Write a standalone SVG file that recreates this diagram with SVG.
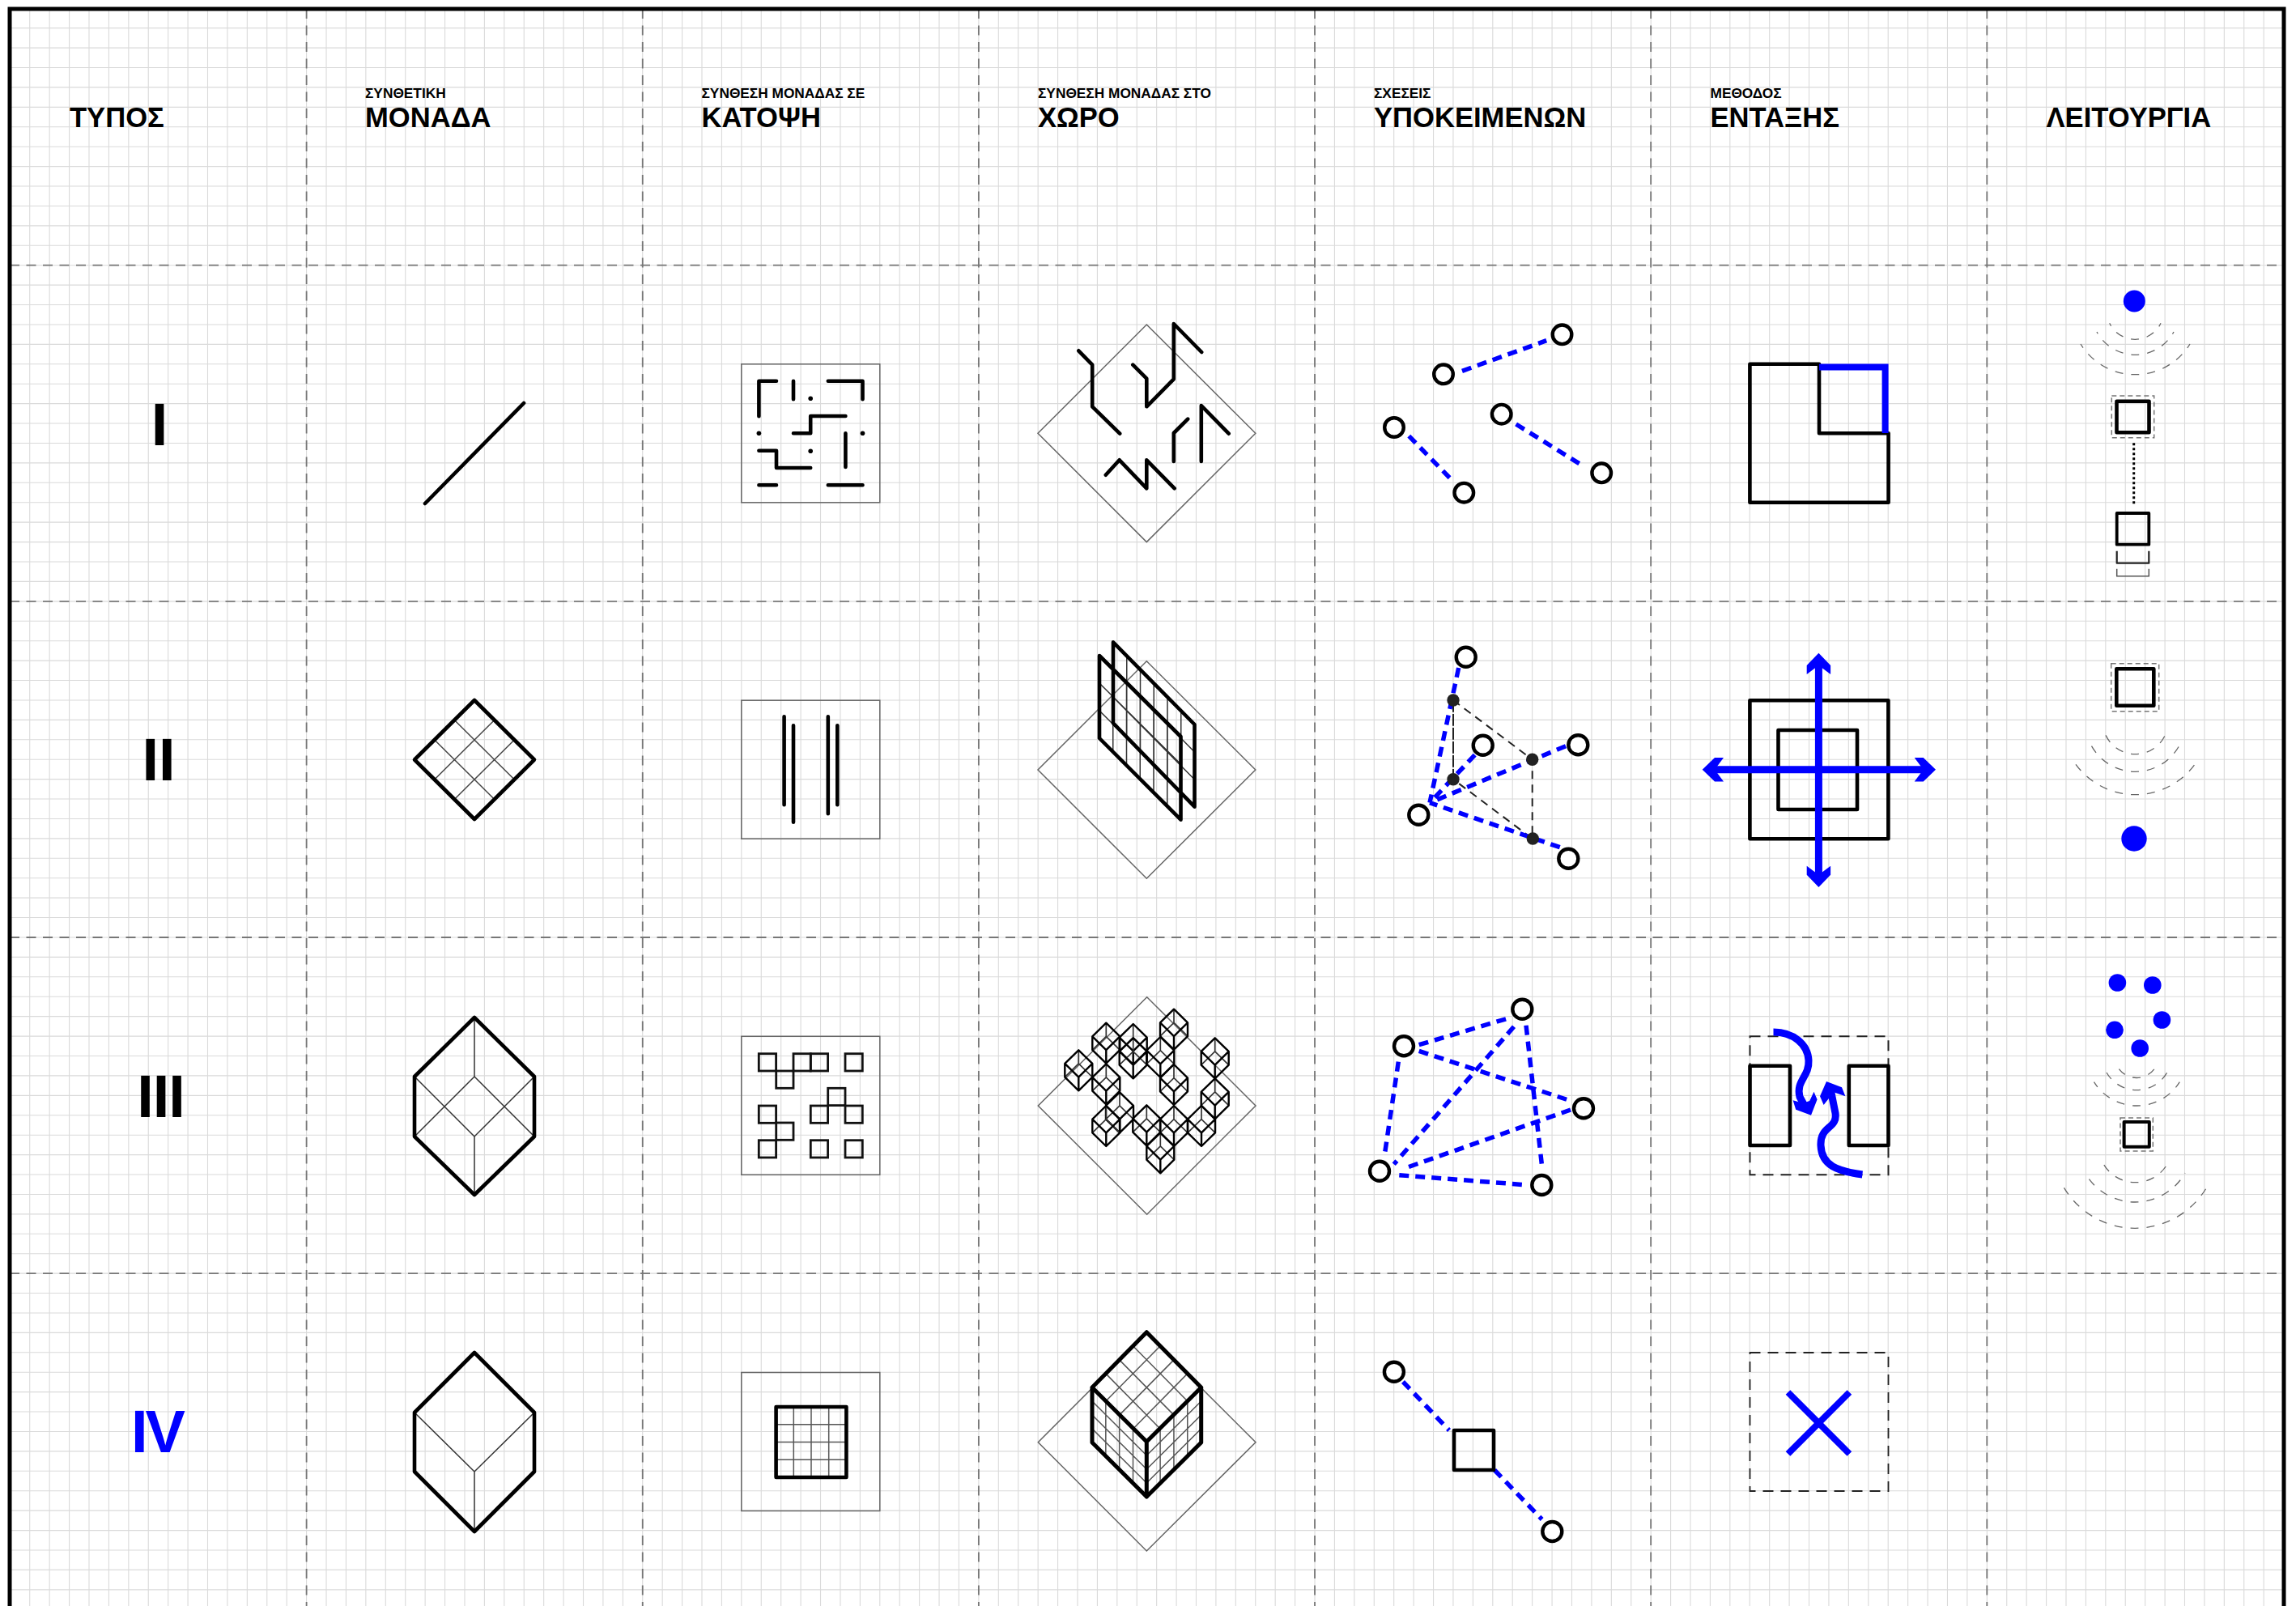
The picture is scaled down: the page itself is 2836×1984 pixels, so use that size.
<svg xmlns="http://www.w3.org/2000/svg" width="2836" height="1984" viewBox="0 0 2836 1984">
<style>
text{font-family:"Liberation Sans",Arial,sans-serif;font-weight:bold;fill:#000}
.h{font-size:34.6px}.s{font-size:17.3px}.r{font-size:74px;text-anchor:middle}
.grid{fill:none;stroke:#dadada;stroke-width:1.1}
.maj{fill:none;stroke:#777;stroke-width:1.8;stroke-dasharray:12 8.5}
.th{fill:none;stroke:#666;stroke-width:1.5}
.k{fill:none;stroke:#000;stroke-width:4.6;stroke-linejoin:round;stroke-linecap:round}
.n{fill:none;stroke:#333;stroke-width:1.5}
.bd{fill:none;stroke:#00f;stroke-width:5.5;stroke-dasharray:12 8}
.c{fill:#fff;stroke:#000;stroke-width:4.4}
.b{fill:#00f}
.arc{fill:none;stroke:#666;stroke-width:1.3;stroke-dasharray:10 10;stroke-dashoffset:5}
.dr{fill:none;stroke:#777;stroke-width:1.5;stroke-dasharray:6 4}
.bs{fill:none;stroke:#00f;stroke-width:9}
</style>
<defs>
<g id="cube">
<path d="M-17 8.33L0 -8.33L17 8.33M0 -25V-8.33" fill="none" stroke="#333" stroke-width="1.7"/>
<path d="M0 -25L17 -8.33V8.33L0 25L-17 8.33V-8.33ZM-17 -8.33L0 8.33L17 -8.33M0 8.33V25" fill="none" stroke="#000" stroke-width="2.4" stroke-linejoin="round"/>
</g>
</defs>
<rect width="2836" height="1984" fill="#fff"/>
<g id="grid">
<path class="grid" d="M36.72 11V1984M61.14 11V1984M85.56 11V1984M109.98 11V1984M134.4 11V1984M158.82 11V1984M183.24 11V1984M207.66 11V1984M232.08 11V1984M256.5 11V1984M280.92 11V1984M305.34 11V1984M329.76 11V1984M354.18 11V1984M378.6 11V1984M403.02 11V1984M427.44 11V1984M451.86 11V1984M476.28 11V1984M500.7 11V1984M525.12 11V1984M549.54 11V1984M573.96 11V1984M598.38 11V1984M622.8 11V1984M647.22 11V1984M671.64 11V1984M696.06 11V1984M720.48 11V1984M744.9 11V1984M769.32 11V1984M793.74 11V1984M818.16 11V1984M842.58 11V1984M867 11V1984M891.42 11V1984M915.84 11V1984M940.26 11V1984M964.68 11V1984M989.1 11V1984M1013.52 11V1984M1037.94 11V1984M1062.36 11V1984M1086.78 11V1984M1111.2 11V1984M1135.62 11V1984M1160.04 11V1984M1184.46 11V1984M1208.88 11V1984M1233.3 11V1984M1257.72 11V1984M1282.14 11V1984M1306.56 11V1984M1330.98 11V1984M1355.4 11V1984M1379.82 11V1984M1404.24 11V1984M1428.66 11V1984M1453.08 11V1984M1477.5 11V1984M1501.92 11V1984M1526.34 11V1984M1550.76 11V1984M1575.18 11V1984M1599.6 11V1984M1624.02 11V1984M1648.44 11V1984M1672.86 11V1984M1697.28 11V1984M1721.7 11V1984M1746.12 11V1984M1770.54 11V1984M1794.96 11V1984M1819.38 11V1984M1843.8 11V1984M1868.22 11V1984M1892.64 11V1984M1917.06 11V1984M1941.48 11V1984M1965.9 11V1984M1990.32 11V1984M2014.74 11V1984M2039.16 11V1984M2063.58 11V1984M2088 11V1984M2112.42 11V1984M2136.84 11V1984M2161.26 11V1984M2185.68 11V1984M2210.1 11V1984M2234.52 11V1984M2258.94 11V1984M2283.36 11V1984M2307.78 11V1984M2332.2 11V1984M2356.62 11V1984M2381.04 11V1984M2405.46 11V1984M2429.88 11V1984M2454.3 11V1984M2478.72 11V1984M2503.14 11V1984M2527.56 11V1984M2551.98 11V1984M2576.4 11V1984M2600.82 11V1984M2625.24 11V1984M2649.66 11V1984M2674.08 11V1984M2698.5 11V1984M2722.92 11V1984M2747.34 11V1984M2771.76 11V1984M2796.18 11V1984"/>
<path class="grid" d="M12 34.66H2820M12 59.08H2820M12 83.5H2820M12 107.92H2820M12 132.34H2820M12 156.76H2820M12 181.18H2820M12 205.6H2820M12 230.02H2820M12 254.44H2820M12 278.86H2820M12 303.28H2820M12 327.7H2820M12 352.12H2820M12 376.54H2820M12 400.96H2820M12 425.38H2820M12 449.8H2820M12 474.22H2820M12 498.64H2820M12 523.06H2820M12 547.48H2820M12 571.9H2820M12 596.32H2820M12 620.74H2820M12 645.16H2820M12 669.58H2820M12 694H2820M12 718.42H2820M12 742.84H2820M12 767.26H2820M12 791.68H2820M12 816.1H2820M12 840.52H2820M12 864.94H2820M12 889.36H2820M12 913.78H2820M12 938.2H2820M12 962.62H2820M12 987.04H2820M12 1011.46H2820M12 1035.88H2820M12 1060.3H2820M12 1084.72H2820M12 1109.14H2820M12 1133.56H2820M12 1157.98H2820M12 1182.4H2820M12 1206.82H2820M12 1231.24H2820M12 1255.66H2820M12 1280.08H2820M12 1304.5H2820M12 1328.92H2820M12 1353.34H2820M12 1377.76H2820M12 1402.18H2820M12 1426.6H2820M12 1451.02H2820M12 1475.44H2820M12 1499.86H2820M12 1524.28H2820M12 1548.7H2820M12 1573.12H2820M12 1597.54H2820M12 1621.96H2820M12 1646.38H2820M12 1670.8H2820M12 1695.22H2820M12 1719.64H2820M12 1744.06H2820M12 1768.48H2820M12 1792.9H2820M12 1817.32H2820M12 1841.74H2820M12 1866.16H2820M12 1890.58H2820M12 1915H2820M12 1939.42H2820M12 1963.84H2820"/>
<path class="maj" d="M378.6 11V1984M793.74 11V1984M1208.88 11V1984M1624.02 11V1984M2039.16 11V1984M2454.3 11V1984"/>
<path class="maj" d="M12 327.7H2820M12 742.84H2820M12 1157.98H2820M12 1573.12H2820"/>
<path d="M12 1984V11H2821V1984" fill="none" stroke="#000" stroke-width="5"/>
</g>
<g id="headers">
<text class="h" x="86" y="157">ΤΥΠΟΣ</text>
<text class="s" x="451" y="120.5">ΣΥΝΘΕΤΙΚΗ</text><text class="h" x="451" y="157">ΜΟΝΑΔΑ</text>
<text class="s" x="866.5" y="120.5">ΣΥΝΘΕΣΗ ΜΟΝΑΔΑΣ ΣΕ</text><text class="h" x="866.5" y="157">ΚΑΤΟΨΗ</text>
<text class="s" x="1282" y="120.5">ΣΥΝΘΕΣΗ ΜΟΝΑΔΑΣ ΣΤΟ</text><text class="h" x="1282" y="157">ΧΩΡΟ</text>
<text class="s" x="1697" y="120.5">ΣΧΕΣΕΙΣ</text><text class="h" x="1697" y="157">ΥΠΟΚΕΙΜΕΝΩΝ</text>
<text class="s" x="2112.5" y="120.5">ΜΕΘΟΔΟΣ</text><text class="h" x="2112.5" y="157">ΕΝΤΑΞΗΣ</text>
<text class="h" x="2527.5" y="157">ΛΕΙΤΟΥΡΓΙΑ</text>
</g>
<g id="types">
<text class="r" x="197" y="550">I</text>
<text class="r" x="196" y="964">II</text>
<text class="r" x="198.5" y="1380" style="letter-spacing:-1px">III</text>
<text class="r" x="194" y="1794" style="fill:#00f;letter-spacing:-3px">IV</text>
</g>
<g id="r1-monada"><path class="k" d="M525 622L647 498"/></g>
<g id="r2-monada">
<path class="n" d="M561.3 889.5L635.3 963M536.7 914L610.7 987.5M610.7 889.5L536.7 963M635.3 914L561.3 987.5" style="stroke:#444"/>
<path class="k" d="M586 865L660 938.5L586 1012L512 938.5Z"/>
</g>
<g id="r3-monada">
<path class="n" d="M512 1404L586 1330L660 1404M586 1257V1330M512 1330L586 1404L660 1330M586 1404V1476"/>
<path class="k" d="M586 1257L660 1330V1404L586 1476L512 1404V1330Z"/>
</g>
<g id="r4-monada">
<path class="n" d="M512 1745L586 1818L660 1745M586 1818V1892"/>
<path class="k" d="M586 1671L660 1745V1818L586 1892L512 1818V1745Z"/>
</g>
<g id="r1-plan">
<rect class="th" x="915.8" y="449.8" width="171" height="171"/>
<path class="k" d="M937.4 514.3V470.7H959M980 470.7V493.3M1022.8 470.7H1065.5V493.3M980 535.3H1001.2V514H1044.4M1044.4 535.3V577M937.4 556.7H959V578H1001.2M937.4 599.3H959M1022.8 599.3H1065.5"/>
<circle cx="1001.2" cy="492.3" r="2.8"/><circle cx="937.4" cy="535.3" r="2.8"/><circle cx="1065.5" cy="535.3" r="2.8"/><circle cx="1001.2" cy="557.3" r="2.8"/>
</g>
<g id="r1-space">
<path class="th" d="M1416.3 401L1550.8 535.3L1416.3 669.6L1282 535.3Z"/>
<path class="k" d="M1332.3 433.3L1349.2 450.7V502.3L1383.2 535.7M1399.3 450.7L1416.3 467.7V502.3L1449.8 468.3V400L1484.2 435M1467.2 517.7L1449.8 535V570M1483.8 570V501L1517.7 535.7M1365.8 586.7L1382.7 568.3L1416.3 603.3V568.3L1450.7 603.3"/>
</g>
<g id="r1-relations">
<path class="bd" d="M1806 458.3L1910.2 420.7M1740.3 538.7L1793 592.7M1872.6 524L1956 576"/>
<circle class="c" cx="1929.5" cy="413.3" r="11.8"/><circle class="c" cx="1783" cy="462.3" r="11.8"/><circle class="c" cx="1722" cy="528" r="11.8"/><circle class="c" cx="1854.7" cy="511.7" r="11.8"/><circle class="c" cx="1978.2" cy="584.3" r="11.8"/><circle class="c" cx="1808.3" cy="608.7" r="11.8"/>
</g>
<g id="r1-method">
<path class="k" d="M2161.4 449.8H2247V535.3H2332.6V620.7H2161.4Z"/>
<path class="bs" d="M2247 453.5H2328.6V535" style="stroke-width:8"/>
</g>
<g id="r1-function">
<circle class="b" cx="2636.3" cy="372" r="13.5"/>
<path class="arc" d="M2637 419.3A35.3 35.3 0 0 0 2669 399.3M2637 419.3A35.3 35.3 0 0 1 2605.7 399.3M2637.3 438.3A54 54 0 0 0 2685 410M2637.3 438.3A54 54 0 0 1 2590 410M2637.3 462.7A79 79 0 0 0 2705 425M2637.3 462.7A79 79 0 0 1 2570 425"/>
<rect class="dr" x="2608.3" y="489" width="52.4" height="51.7"/>
<rect class="k" x="2614.5" y="495.7" width="40" height="38.6"/>
<path d="M2635.7 547.3V623.3" fill="none" stroke="#000" stroke-width="3" stroke-dasharray="3 3"/>
<rect class="k" x="2614.7" y="634" width="39.6" height="38.7" style="stroke-width:3.8"/>
<path class="k" d="M2614.7 680.7V695.7H2654.3V680.7" style="stroke-width:2.2;stroke:#222;stroke-linecap:butt"/>
<path class="th" d="M2614.7 702.7V711.7H2654.3V702.7" style="stroke:#555"/>
</g>
<g id="r2-plan">
<rect class="th" x="915.8" y="865.2" width="171" height="171"/>
<path class="k" d="M968.6 885.3V994.3M980 896.3V1015.7M1022.8 885.3V1005.3M1034.3 896.3V994.3"/>
</g>
<g id="r2-space">
<path class="th" d="M1416.3 816.7L1550.8 951L1416.3 1085.3L1282 951Z"/>
<path class="n" d="M1374.75 826.7V928.7M1391.5 843.3V945.3M1408.25 860V962M1425 876.7V978.7M1441.75 893.3V995.3M1391.75 810.3V912.3M1408.5 827.3V929.3M1425.25 844.3V946.3M1442 861.3V963.3M1458.75 878.3V980.3M1358 844L1458.5 944M1358 878L1458.5 978M1375 827.3L1475.5 929M1375 861.3L1475.5 963"/>
<path class="k" d="M1375 793.3L1475.5 895V996.7L1375 893.3ZM1358 810L1458.5 910V1012.7L1358 912Z"/>
</g>
<g id="r2-relations">
<path d="M1795 865L1892.7 938.3V1036L1795 962.7ZM1795 865V962.7" fill="none" stroke="#222" stroke-width="2" stroke-dasharray="10 7"/>
<path class="bd" d="M1801.7 825L1766 991.7M1821.7 932.7L1766 991.7M1934 921.7L1766 991.7M1926.7 1046.7L1766 991.7"/>
<circle cx="1795" cy="865" r="7.7" fill="#222"/><circle cx="1892.7" cy="938.3" r="7.7" fill="#222"/><circle cx="1795" cy="962.7" r="7.7" fill="#222"/><circle cx="1893.3" cy="1036" r="7.7" fill="#222"/>
<circle class="c" cx="1810.7" cy="811.7" r="12"/><circle class="c" cx="1831.7" cy="920.7" r="12"/><circle class="c" cx="1949.3" cy="920.3" r="12"/><circle class="c" cx="1752.3" cy="1006.7" r="12"/><circle class="c" cx="1937.3" cy="1060.7" r="12"/>
</g>
<g id="r2-method">
<rect class="k" x="2161.4" y="865.2" width="171" height="171"/>
<rect class="k" x="2196.5" y="902" width="97.5" height="98"/>
<path class="bs" d="M2115 950.7H2378M2246.4 820V1083"/>
<path class="b" d="M2102.7 950.7L2118 936H2129L2118 950.7L2129 965.4H2118ZM2391 950.7L2375.7 936H2364.7L2375.7 950.7L2364.7 965.4H2375.7ZM2246.4 806.7L2231.7 822V833L2246.4 822L2261.1 833V822ZM2246.4 1096L2231.7 1080.7V1069.7L2246.4 1080.7L2261.1 1069.7V1080.7Z"/>
</g>
<g id="r2-function">
<rect class="dr" x="2607.7" y="819.7" width="59" height="59"/>
<rect class="k" x="2614.3" y="826.3" width="46" height="45.4"/>
<path class="arc" d="M2637 931.7A40.6 40.6 0 0 0 2674.3 908.3M2637 931.7A40.6 40.6 0 0 1 2601 908.3M2637 953.3A61.9 61.9 0 0 0 2691.7 921.3M2637 953.3A61.9 61.9 0 0 1 2583.3 921.3M2637 981.7A91 91 0 0 0 2715 938.3M2637 981.7A91 91 0 0 1 2560 938.3"/>
<circle class="b" cx="2636" cy="1036" r="15.7"/>
</g>
<g id="r3-plan">
<rect class="th" x="915.8" y="1280.3" width="171" height="171"/>
<g fill="none" stroke="#111" stroke-width="2.8">
<rect x="937.3" y="1301.7" width="21.3" height="21.3"/><rect x="958.7" y="1323" width="21.3" height="21.3"/><rect x="980" y="1301.7" width="21.3" height="21.3"/><rect x="1001.3" y="1301.7" width="21.3" height="21.3"/><rect x="1044" y="1301.7" width="21.3" height="21.3"/><rect x="1022.7" y="1344.3" width="21.3" height="21.3"/><rect x="1001.3" y="1366" width="21.3" height="21.3"/><rect x="1044" y="1366" width="21.3" height="21.3"/><rect x="937.3" y="1366" width="21.3" height="21.3"/><rect x="958.7" y="1387" width="21.3" height="21.3"/><rect x="937.3" y="1408.7" width="21.3" height="21.3"/><rect x="1001.3" y="1408.7" width="21.3" height="21.3"/><rect x="1044" y="1408.7" width="21.3" height="21.3"/>
</g>
</g>
<g id="r3-space">
<path class="th" d="M1416.7 1231.7L1551 1366L1416.7 1500.3L1282.3 1366Z"/>
<use href="#cube" x="1332.3" y="1322.3"/><use href="#cube" x="1366.3" y="1288.7"/><use href="#cube" x="1399.7" y="1290"/><use href="#cube" x="1399.7" y="1307.3"/><use href="#cube" x="1433.3" y="1306"/><use href="#cube" x="1450" y="1271.7"/><use href="#cube" x="1500.7" y="1307.3"/><use href="#cube" x="1366.3" y="1339.3"/><use href="#cube" x="1450" y="1340"/><use href="#cube" x="1500.7" y="1357.3"/><use href="#cube" x="1383" y="1374.3"/><use href="#cube" x="1366.3" y="1391"/><use href="#cube" x="1416.3" y="1390.3"/><use href="#cube" x="1450" y="1391"/><use href="#cube" x="1484" y="1391"/><use href="#cube" x="1433.3" y="1424.3"/>
</g>
<g id="r3-relations">
<path class="bd" d="M1752.7 1290.7L1865 1257.3M1752.7 1298.3L1938.3 1359.3M1727.3 1311.7L1710 1428.3M1870 1268.3L1721.7 1438.3M1885 1266.7L1905 1444M1940 1371L1735 1443.3M1728.3 1451.7L1887.7 1464"/>
<circle class="c" cx="1734" cy="1292.3" r="12"/><circle class="c" cx="1880.3" cy="1246.7" r="12"/><circle class="c" cx="1956" cy="1369.3" r="12"/><circle class="c" cx="1904.3" cy="1464" r="12"/><circle class="c" cx="1704" cy="1446.7" r="12"/>
</g>
<g id="r3-method">
<rect x="2161.5" y="1280.3" width="171" height="171" fill="none" stroke="#222" stroke-width="2" stroke-dasharray="13 9"/>
<rect class="k" x="2161.5" y="1316.7" width="49.5" height="98.3"/>
<rect class="k" x="2283.8" y="1316.7" width="48.7" height="98.3"/>
<path class="bs" d="M2190.5 1275C2215 1275 2233 1290 2234 1310C2235 1330 2218 1335 2223 1355L2230 1368"/>
<path class="b" d="M2214.6 1359.3L2227 1362.7L2235.2 1360L2240.5 1348.7L2244.6 1358.3L2237 1377.7L2218.2 1370.7Z"/>
<path class="bs" d="M2300.4 1451C2270 1447 2250 1440 2249 1415C2248 1390 2270 1395 2267 1375L2261 1345"/>
<path class="b" d="M2256 1336L2275 1343.3L2279.4 1354.3L2265 1349.3L2252.6 1365L2248 1354.3Z"/>
</g>
<g id="r3-function">
<circle class="b" cx="2615.4" cy="1214" r="10.8"/><circle class="b" cx="2658.8" cy="1217" r="10.8"/><circle class="b" cx="2612" cy="1272.3" r="10.8"/><circle class="b" cx="2670.4" cy="1260" r="10.8"/><circle class="b" cx="2643.2" cy="1295" r="10.8"/>
<path class="arc" d="M2639 1331.5A27.3 27.3 0 0 0 2663.8 1316M2639 1331.5A27.3 27.3 0 0 1 2614.6 1316M2639 1346.7A42.9 42.9 0 0 0 2676.7 1325M2639 1346.7A42.9 42.9 0 0 1 2602 1325M2639 1366A62.4 62.4 0 0 0 2692.3 1336.7M2639 1366A62.4 62.4 0 0 1 2586.5 1336.7M2636.5 1460.7A45.5 45.5 0 0 0 2679 1434.3M2636.5 1460.7A45.5 45.5 0 0 1 2596.3 1434.3M2636.5 1485A71 71 0 0 0 2699 1449M2636.5 1485A71 71 0 0 1 2575.4 1449M2636.5 1517.3A102.4 102.4 0 0 0 2725.4 1467.3M2636.5 1517.3A102.4 102.4 0 0 1 2549.5 1467.3"/>
<rect class="dr" x="2619" y="1381" width="40.3" height="41"/>
<rect class="k" x="2623.6" y="1386" width="31.2" height="30.7" style="stroke-width:4"/>
</g>
<g id="r4-plan">
<rect class="th" x="915.8" y="1695.5" width="171" height="171"/>
<path class="n" d="M980.3 1738V1825M1002 1738V1825M1023.7 1738V1825M958.6 1759.7H1045.4M958.6 1781.5H1045.4M958.6 1803.2H1045.4" style="stroke:#555"/>
<rect class="k" x="958.6" y="1738" width="86.8" height="87"/>
</g>
<g id="r4-space">
<path class="th" d="M1416.3 1647.4L1551 1781.7L1416.3 1916L1282.3 1781.7Z"/>
<path class="n" d="M1399.46 1662.77L1466.86 1731.07M1382.6 1679.85L1450 1748.15M1365.8 1696.9L1433.2 1765.2M1433.14 1662.77L1365.84 1731.07M1450 1679.85L1382.7 1748.15M1466.8 1696.9L1399.5 1765.2M1365.83 1730.75V1798.75M1382.66 1747.5V1815.5M1399.5 1764.25V1832.25M1349 1731L1416.3 1798M1349 1748L1416.3 1815M1349 1765L1416.3 1832M1466.77 1730.75V1798.75M1449.94 1747.5V1815.5M1433.1 1764.25V1832.25M1483.7 1731L1416.3 1798M1483.7 1748L1416.3 1815M1483.7 1765L1416.3 1832" style="stroke:#555"/>
<path class="k" d="M1416.3 1645.7L1483.7 1714V1782L1416.3 1849L1349 1782V1714ZM1349 1714L1416.3 1781L1483.7 1714M1416.3 1781V1849" style="stroke-width:5"/>
</g>
<g id="r4-relations">
<path class="bd" d="M1733 1707L1790 1767M1846 1816L1904.6 1877"/>
<circle class="c" cx="1721.9" cy="1694.7" r="12"/><circle class="c" cx="1917.3" cy="1892" r="12"/>
<rect class="k" x="1796" y="1767" width="49" height="49"/>
</g>
<g id="r4-method">
<rect x="2161.5" y="1671" width="171" height="171" fill="none" stroke="#222" stroke-width="1.8" stroke-dasharray="13 9"/>
<path d="M2208.5 1720L2284.4 1796M2284.4 1720L2208.5 1796" fill="none" stroke="#00f" stroke-width="8"/>
</g>
</svg>
